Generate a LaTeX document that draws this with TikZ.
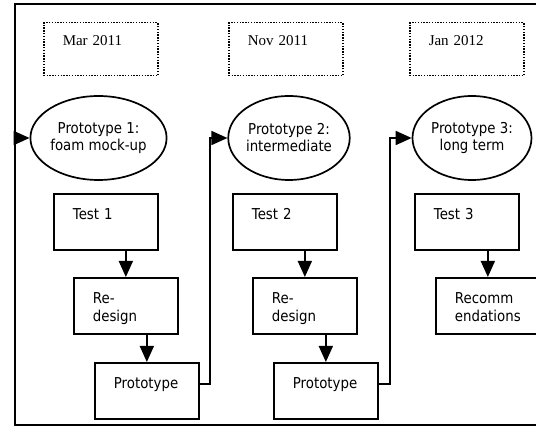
\documentclass[tikz,border=0pt]{standalone}
\usepackage{fontspec}
\usetikzlibrary{arrows.meta, positioning, shapes.geometric}
\newfontfamily\boxfont[FakeStretch=0.89]{DejaVu Sans}
\newfontfamily\datefont{Liberation Serif}
\tikzset{
  datebox/.style={rectangle, draw=black, line width=1.5pt, dash pattern=on 1.4pt off 1.4pt,
                  anchor=north west, align=left, text width=76pt, inner xsep=19pt, inner ysep=4pt,
                  text height=19pt, text depth=26pt,
                  font={\datefont\fontsize{15pt}{17.5pt}\selectfont}},
  protoell/.style={ellipse, draw=black, line width=1.7pt, minimum width=119pt,
                   minimum height=84pt, inner sep=0pt, align=center,
                   font={\boxfont\fontsize{15pt}{17pt}\selectfont}},
  taskbox/.style={rectangle, draw=black, line width=1.7pt, anchor=north west, align=left,
                  text width=66pt, inner xsep=19pt, inner ysep=4pt,
                  text height=21.5pt, text depth=27pt,
                  font={\boxfont\fontsize{15pt}{18pt}\selectfont}},
  flow/.style={-{Triangle[length=16pt, width=14pt]}, line width=1.7pt, draw=black},
}

\begin{document}
\begin{tikzpicture}[x=1pt, y=-1pt]
\clip (0,0) rectangle (536,427);

% Outer frame, running off the right edge
\draw[line width=2pt] (15,4) rectangle (548,425);
\coordinate (entry) at (15,138);

% Dates
\node[datebox] (date1) at (43,22)  {Mar 2011};
\node[datebox] (date2) at (228,22) {Nov 2011};
\node[datebox] (date3) at (409,22) {Jan 2012};

% Prototype stages
\node[protoell] (ell1) at (98.5,138) {Prototype 1:\\foam mock-up};
\node[protoell] (ell2) at (289,138)  {Prototype 2:\\intermediate};
\node[protoell] (ell3) at (472,138)  {Prototype 3:\\long term};

% Tests
\node[taskbox] (test1) at (53,193)  {Test 1};
\node[taskbox] (test2) at (232,193) {Test 2};
\node[taskbox] (test3) at (414,193) {Test 3};

% Redesign / recommendations
\node[taskbox] (redesign1) at (73,277)  {Re-\\design};
\node[taskbox] (redesign2) at (252,277) {Re-\\design};
\node[taskbox] (recomm)    at (435,277) {Recomm\\endations};

% Prototypes
\node[taskbox] (proto1) at (94,362)  {Prototype};
\node[taskbox] (proto2) at (273,362) {Prototype};

% Flow
\draw[flow] (entry) -- (ell1.west);
\draw[flow] (redesign1.north |- test1.south) -- (redesign1.north);
\draw[flow] (proto1.north |- redesign1.south) -- (proto1.north);
\draw[flow] ([yshift=7pt]proto1.east) -- ++(10,0) |- (ell2.west);
\draw[flow] (redesign2.north |- test2.south) -- (redesign2.north);
\draw[flow] (proto2.north |- redesign2.south) -- (proto2.north);
\draw[flow] ([yshift=7pt]proto2.east) -- ++(11,0) |- (ell3.west);
\draw[flow] (recomm.north |- test3.south) -- (recomm.north);

\end{tikzpicture}
\end{document}
